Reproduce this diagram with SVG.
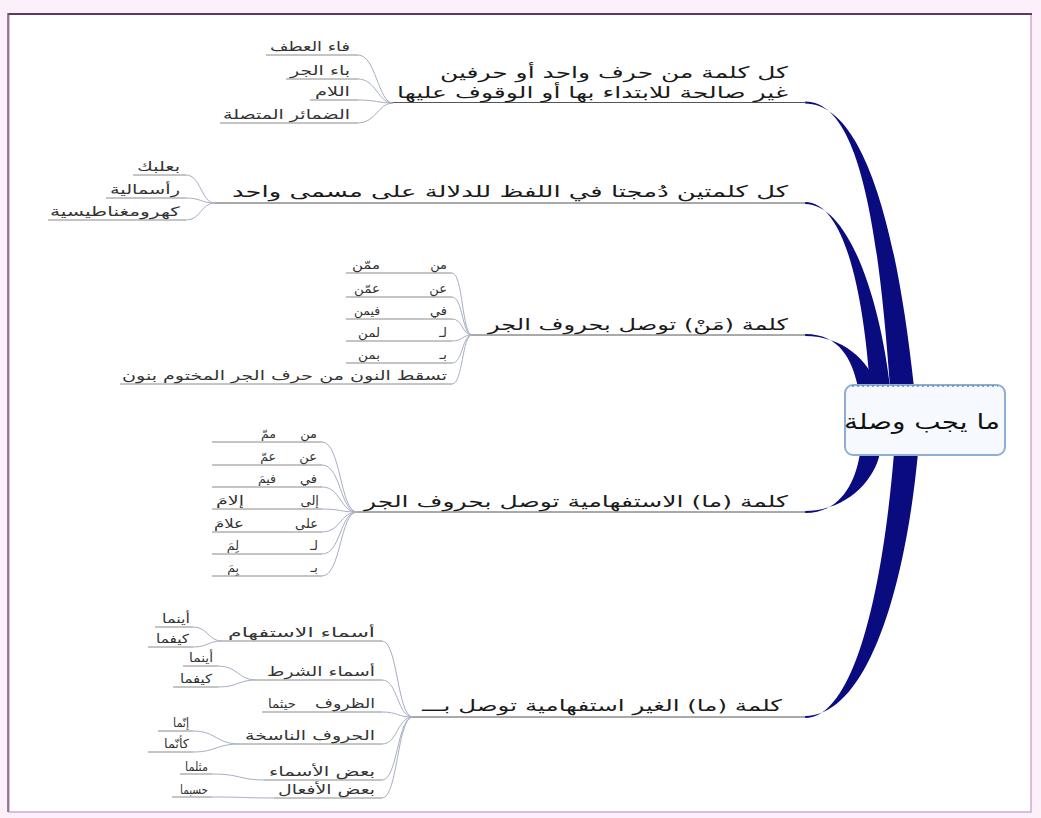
<svg xmlns="http://www.w3.org/2000/svg" width="1041" height="818" viewBox="0 0 1041 818">
<style>
text{font-family:"DejaVu Sans","Noto Sans",sans-serif;fill:#1a1a1a;text-anchor:end}
.m{font-size:16px}
.s{font-size:13px;fill:#333}
.t{font-size:12.5px;fill:#333}
.c{font-size:21px;fill:#111}
.ul{stroke:#555;stroke-width:1;fill:none}
.su{stroke:#8a8a8a;stroke-width:1;fill:none}
.sc{stroke:#a7aec4;stroke-width:1;fill:none}
.br{fill:#0b0b80;stroke:none}
</style>
<rect x="0" y="0" width="1041" height="818" fill="#fcf0fa"/>
<rect x="9" y="14" width="1022" height="798" fill="#ffffff" stroke="#d2a8cf" stroke-width="1.5"/>
<line x1="8" y1="14" x2="1032" y2="14" stroke="#5e3b5e" stroke-width="2"/>
<line x1="8" y1="13" x2="8" y2="812" stroke="#7a5a7a" stroke-width="1.5"/>

<g id="connectors">
  <!-- main tapered branches -->
  <path class="br" d="M805,101.5 C858,101.5 878,220 890,387 L914,387 C896,220 862,103.5 805,103.5 Z"/>
  <path class="br" d="M805,202 C846,202 864,300 870,387 L890,387 C880,300 849,204 805,204 Z"/>
  <path class="br" d="M805,334 C840,334 852,360 858,387 L878,387 C868,360 843,336 805,336 Z"/>
  <path class="br" d="M805,513 C842,513 856,480 860,453 L880,453 C874,482 845,511 805,511 Z"/>
  <path class="br" d="M805,718 C852,718 882,600 894,453 L918,453 C904,600 864,716 805,716 Z"/>
  <!-- main underlines -->
  <line class="ul" x1="393" y1="102.5" x2="806" y2="102.5"/>
  <line class="ul" x1="215" y1="203" x2="806" y2="203"/>
  <line class="ul" x1="472" y1="335" x2="806" y2="335"/>
  <line class="ul" x1="357" y1="512" x2="806" y2="512"/>
  <line class="ul" x1="413" y1="717" x2="806" y2="717"/>
  <!-- branch 1 sub -->
  <line class="su" x1="266" y1="55" x2="358" y2="55"/>
  <line class="su" x1="286" y1="79" x2="358" y2="79"/>
  <line class="su" x1="310" y1="100" x2="358" y2="100"/>
  <line class="su" x1="220" y1="123" x2="358" y2="123"/>
  <path class="sc" d="M358,55 C376,55 378,103 393,103"/>
  <path class="sc" d="M358,79 C376,79 378,103 393,103"/>
  <path class="sc" d="M358,100 C376,100 378,103 393,103"/>
  <path class="sc" d="M358,123 C376,123 378,103 393,103"/>
  <!-- branch 2 sub -->
  <line class="su" x1="133" y1="175" x2="186" y2="175"/>
  <line class="su" x1="106" y1="198" x2="186" y2="198"/>
  <line class="su" x1="48" y1="220" x2="186" y2="220"/>
  <path class="sc" d="M186,175 C201,175 201,203 215,203"/>
  <path class="sc" d="M186,198 C201,198 201,203 215,203"/>
  <path class="sc" d="M186,220 C201,220 201,203 215,203"/>
  <!-- branch 3 sub -->
  <line class="su" x1="346" y1="273" x2="452" y2="273"/>
  <line class="su" x1="346" y1="297" x2="452" y2="297"/>
  <line class="su" x1="346" y1="319" x2="452" y2="319"/>
  <line class="su" x1="346" y1="341" x2="452" y2="341"/>
  <line class="su" x1="346" y1="363" x2="452" y2="363"/>
  <line class="su" x1="120" y1="384" x2="452" y2="384"/>
  <path class="sc" d="M452,273 C463,273 462,335 472,335"/>
  <path class="sc" d="M452,297 C463,297 462,335 472,335"/>
  <path class="sc" d="M452,319 C463,319 462,335 472,335"/>
  <path class="sc" d="M452,341 C463,341 462,335 472,335"/>
  <path class="sc" d="M452,363 C463,363 462,335 472,335"/>
  <path class="sc" d="M452,384 C463,384 462,335 472,335"/>
  <!-- branch 4 sub -->
  <line class="su" x1="212" y1="442" x2="322" y2="442"/>
  <line class="su" x1="212" y1="465" x2="322" y2="465"/>
  <line class="su" x1="212" y1="487" x2="322" y2="487"/>
  <line class="su" x1="212" y1="509" x2="322" y2="509"/>
  <line class="su" x1="212" y1="532" x2="322" y2="532"/>
  <line class="su" x1="212" y1="554" x2="322" y2="554"/>
  <line class="su" x1="212" y1="576" x2="322" y2="576"/>
  <path class="sc" d="M322,442 C341,442 340,512 357,512"/>
  <path class="sc" d="M322,465 C341,465 340,512 357,512"/>
  <path class="sc" d="M322,487 C341,487 340,512 357,512"/>
  <path class="sc" d="M322,509 C341,509 340,512 357,512"/>
  <path class="sc" d="M322,532 C341,532 340,512 357,512"/>
  <path class="sc" d="M322,554 C341,554 340,512 357,512"/>
  <path class="sc" d="M322,576 C341,576 340,512 357,512"/>
  <!-- branch 5 sub -->
  <line class="su" x1="222" y1="641" x2="382" y2="641"/>
  <line class="su" x1="256" y1="680" x2="382" y2="680"/>
  <line class="su" x1="262" y1="712" x2="382" y2="712"/>
  <line class="su" x1="240" y1="744" x2="382" y2="744"/>
  <line class="su" x1="264" y1="780" x2="382" y2="780"/>
  <line class="su" x1="274" y1="798" x2="382" y2="798"/>
  <path class="sc" d="M382,641 C398,641 397,717 413,717"/>
  <path class="sc" d="M382,680 C398,680 397,717 413,717"/>
  <path class="sc" d="M382,712 C398,712 397,717 413,717"/>
  <path class="sc" d="M382,744 C398,744 397,717 413,717"/>
  <path class="sc" d="M382,780 C398,780 397,717 413,717"/>
  <path class="sc" d="M382,798 C398,798 397,717 413,717"/>
  <!-- branch 5 level 3 -->
  <line class="su" x1="155" y1="627" x2="193" y2="627"/>
  <line class="su" x1="148" y1="647" x2="193" y2="647"/>
  <path class="sc" d="M193,627 C208,627 208,641 222,641"/>
  <path class="sc" d="M193,647 C208,647 208,641 222,641"/>
  <line class="su" x1="183" y1="666" x2="218" y2="666"/>
  <line class="su" x1="173" y1="687" x2="218" y2="687"/>
  <path class="sc" d="M218,666 C238,666 238,680 256,680"/>
  <path class="sc" d="M218,687 C238,687 238,680 256,680"/>
  <line class="su" x1="158" y1="731" x2="193" y2="731"/>
  <line class="su" x1="148" y1="752" x2="193" y2="752"/>
  <path class="sc" d="M193,731 C216,731 216,744 240,744"/>
  <path class="sc" d="M193,752 C216,752 216,744 240,744"/>
  <line class="su" x1="180" y1="774" x2="212" y2="774"/>
  <path class="sc" d="M212,774 C240,774 240,780 264,780"/>
  <line class="su" x1="172" y1="797" x2="212" y2="797"/>
  <path class="sc" d="M212,797 C245,797 245,798 274,798"/>
</g>

<g id="center">
  <rect x="845" y="385" width="160" height="70" rx="8" fill="#f6faff" stroke="#8eaed6" stroke-width="2"/>
  <line x1="852" y1="386" x2="998" y2="386" stroke="#6b86b0" stroke-width="1.5" stroke-dasharray="2,3"/>
  <text class="c" x="1000" y="429" textLength="156" lengthAdjust="spacingAndGlyphs">ما يجب وصلة</text>
</g>

<g id="b1">
  <text class="m" x="788" y="78" textLength="348" lengthAdjust="spacingAndGlyphs">كل كلمة من حرف واحد أو حرفين</text>
  <text class="m" x="788" y="98" textLength="391" lengthAdjust="spacingAndGlyphs">غير صالحة للابتداء بها أو الوقوف عليها</text>
  <g id="b1-1"><text class="s" x="350" y="51" textLength="80" lengthAdjust="spacingAndGlyphs">فاء العطف</text></g>
  <g id="b1-2"><text class="s" x="350" y="75" textLength="60" lengthAdjust="spacingAndGlyphs">باء الجر</text></g>
  <g id="b1-3"><text class="s" x="350" y="96" textLength="35" lengthAdjust="spacingAndGlyphs">اللام</text></g>
  <g id="b1-4"><text class="s" x="350" y="119" textLength="127" lengthAdjust="spacingAndGlyphs">الضمائر المتصلة</text></g>
</g>

<g id="b2">
  <text class="m" x="788" y="197" textLength="556" lengthAdjust="spacingAndGlyphs">كل كلمتين دُمجتا في اللفظ للدلالة على مسمى واحد</text>
  <g id="b2-1"><text class="s" x="180" y="171" textLength="43" lengthAdjust="spacingAndGlyphs">بعلبك</text></g>
  <g id="b2-2"><text class="s" x="180" y="194" textLength="70" lengthAdjust="spacingAndGlyphs">رأسمالية</text></g>
  <g id="b2-3"><text class="s" x="180" y="216" textLength="130" lengthAdjust="spacingAndGlyphs">كهرومغناطيسية</text></g>
</g>

<g id="b3">
  <text class="m" x="788" y="330" textLength="300" lengthAdjust="spacingAndGlyphs">كلمة (مَنْ) توصل بحروف الجر</text>
  <g id="b3-1"><text class="s" x="447" y="269">من</text><text class="t" x="380" y="269" textLength="28" lengthAdjust="spacingAndGlyphs">ممّن</text></g>
  <g id="b3-2"><text class="s" x="447" y="293">عن</text><text class="t" x="380" y="293" textLength="26" lengthAdjust="spacingAndGlyphs">عمّن</text></g>
  <g id="b3-3"><text class="s" x="447" y="315">في</text><text class="t" x="380" y="315" textLength="26" lengthAdjust="spacingAndGlyphs">فيمن</text></g>
  <g id="b3-4"><text class="s" x="447" y="337">لـ</text><text class="t" x="380" y="337" textLength="22" lengthAdjust="spacingAndGlyphs">لمن</text></g>
  <g id="b3-5"><text class="s" x="447" y="359">بـ</text><text class="t" x="380" y="359" textLength="22" lengthAdjust="spacingAndGlyphs">بمن</text></g>
  <g id="b3-6"><text class="s" x="447" y="380" textLength="325" lengthAdjust="spacingAndGlyphs">تسقط النون من حرف الجر المختوم بنون</text></g>
</g>

<g id="b4">
  <text class="m" x="788" y="507" textLength="424" lengthAdjust="spacingAndGlyphs">كلمة (ما) الاستفهامية توصل بحروف الجر</text>
  <g id="b4-1"><text class="s" x="317" y="438">من</text><text class="t" x="276" y="438">ممّ</text></g>
  <g id="b4-2"><text class="s" x="317" y="461">عن</text><text class="t" x="276" y="461">عمّ</text></g>
  <g id="b4-3"><text class="s" x="317" y="483">في</text><text class="t" x="276" y="483">فيمَ</text></g>
  <g id="b4-4"><text class="s" x="319" y="505">إلى</text><text class="t" x="244" y="505" textLength="28" lengthAdjust="spacingAndGlyphs">إلامَ</text></g>
  <g id="b4-5"><text class="s" x="318" y="528">على</text><text class="t" x="244" y="528" textLength="30" lengthAdjust="spacingAndGlyphs">علامَ</text></g>
  <g id="b4-6"><text class="s" x="318" y="550">لـ</text><text class="t" x="239" y="550">لِمَ</text></g>
  <g id="b4-7"><text class="s" x="318" y="572">بـ</text><text class="t" x="239" y="572">بِمَ</text></g>
</g>

<g id="b5">
  <text class="m" x="782" y="711" textLength="360" lengthAdjust="spacingAndGlyphs">كلمة (ما) الغير استفهامية توصل بـــ</text>
  <g id="b5-1"><text class="s" x="375" y="637" textLength="147" lengthAdjust="spacingAndGlyphs">أسماء الاستفهام</text>
    <text class="t" x="190" y="623" textLength="28" lengthAdjust="spacingAndGlyphs">أينما</text><text class="t" x="189" y="643" textLength="33" lengthAdjust="spacingAndGlyphs">كيفما</text></g>
  <g id="b5-2"><text class="s" x="375" y="676" textLength="108" lengthAdjust="spacingAndGlyphs">أسماء الشرط</text>
    <text class="t" x="213" y="662" textLength="24" lengthAdjust="spacingAndGlyphs">أينما</text><text class="t" x="212" y="683" textLength="32" lengthAdjust="spacingAndGlyphs">كيفما</text></g>
  <g id="b5-3"><text class="s" x="375" y="708" textLength="60" lengthAdjust="spacingAndGlyphs">الظروف</text><text class="t" x="296" y="708" textLength="28" lengthAdjust="spacingAndGlyphs">حيثما</text></g>
  <g id="b5-4"><text class="s" x="375" y="740" textLength="130" lengthAdjust="spacingAndGlyphs">الحروف الناسخة</text>
    <text class="t" x="189" y="727" textLength="16" lengthAdjust="spacingAndGlyphs">إنّما</text><text class="t" x="189" y="748" textLength="25" lengthAdjust="spacingAndGlyphs">كأنّما</text></g>
  <g id="b5-5"><text class="s" x="375" y="776" textLength="106" lengthAdjust="spacingAndGlyphs">بعض الأسماء</text><text class="t" x="208" y="771" textLength="23" lengthAdjust="spacingAndGlyphs">مثلما</text></g>
  <g id="b5-6"><text class="s" x="375" y="794" textLength="97" lengthAdjust="spacingAndGlyphs">بعض الأفعال</text><text class="t" x="208" y="794" textLength="28" lengthAdjust="spacingAndGlyphs">حسبما</text></g>
</g>
</svg>
